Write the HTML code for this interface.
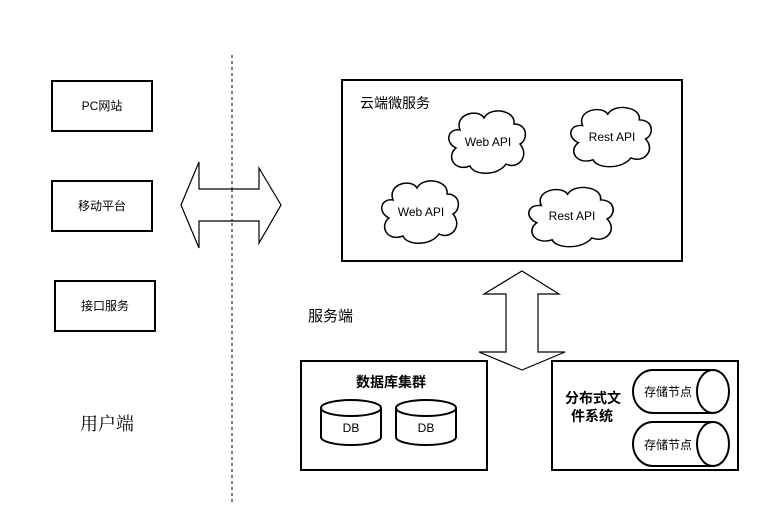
<!DOCTYPE html>
<html><head><meta charset="utf-8"><style>
body{margin:0;background:#fff}
svg text{font-family:"Liberation Sans","Noto Sans CJK SC",sans-serif;fill:#000}
</style></head><body>
<svg width="766" height="520" viewBox="0 0 766 520" xmlns="http://www.w3.org/2000/svg">
<rect width="766" height="520" fill="#fff"/>
<line x1="232" y1="55" x2="232" y2="502" stroke="#000" stroke-dasharray="3,3" stroke-width="1"/>
<g fill="#fff" stroke="#000" stroke-width="2">
<rect x="52" y="81" width="100" height="50"/>
<rect x="52" y="181" width="100" height="50"/>
<rect x="55" y="281" width="100" height="50"/>
<rect x="342" y="80" width="340" height="181"/>
<rect x="301" y="361" width="186" height="109"/>
<rect x="552" y="361" width="186" height="109"/>
</g>
<g font-size="12" text-anchor="middle">
<text x="102" y="110">PC网站</text>
<text x="102" y="210">移动平台</text>
<text x="105" y="310">接口服务</text>
</g>
<text x="107" y="430" font-size="18" text-anchor="middle" style="font-family:'Noto Serif CJK SC',serif">用户端</text>
<!-- horizontal double arrow -->
<path d="M181,205 L199,162 L199,189 L259,189 L259,168 L281,205 L259,243 L259,221 L199,221 L199,248 Z" fill="#fff" stroke="#000" stroke-width="1.2"/>
<line x1="232" y1="189" x2="232" y2="221" stroke="#000" stroke-dasharray="3,3"/>
<!-- vertical double arrow -->
<path d="M522,271 L559,294 L538,294 L538,352 L565,352 L522,370 L479,352 L506,352 L506,294 L484,294 Z" fill="#fff" stroke="#000" stroke-width="1.2"/>
<text x="360" y="108" font-size="14">云端微服务</text>
<text x="308" y="321" font-size="15">服务端</text>
<text x="391" y="387" font-size="14" font-weight="bold" text-anchor="middle">数据库集群</text>
<text x="565" y="403" font-size="14" font-weight="bold">分布式文</text>
<text x="571" y="421" font-size="14" font-weight="bold">件系统</text>
<!-- clouds -->
<defs>
<path id="cl" d="M-28,-12 C-34,-28 -10,-34 -4,-24 C2,-36 28,-32 26,-18 C40,-18 40,-2 32,2 C42,14 30,28 18,22 C10,34 -14,34 -18,24 C-34,30 -42,14 -32,6 C-44,0 -40,-14 -28,-12 Z"/>
</defs>
<g fill="#fff" stroke="#000" stroke-width="1.5">
<use href="#cl" transform="translate(488,142)"/>
<use href="#cl" transform="translate(612,137) scale(1.05,0.95)"/>
<use href="#cl" transform="translate(421,212)"/>
<use href="#cl" transform="translate(572,217) scale(1.1,0.95)"/>
</g>
<g font-size="12" text-anchor="middle">
<text x="488" y="146">Web API</text>
<text x="612" y="141">Rest API</text>
<text x="421" y="216">Web API</text>
<text x="572" y="220">Rest API</text>
</g>
<!-- DB cylinders -->
<g fill="#fff" stroke="#000" stroke-width="2">
<path d="M321,408 L321,437 A30,8 0 0 0 381,437 L381,408"/>
<ellipse cx="351" cy="408" rx="30" ry="8"/>
<path d="M396,408 L396,437 A30,8 0 0 0 456,437 L456,408"/>
<ellipse cx="426" cy="408" rx="30" ry="8"/>
</g>
<g font-size="12" text-anchor="middle">
<text x="351" y="432">DB</text>
<text x="426" y="432">DB</text>
</g>
<!-- horizontal cylinders -->
<g fill="#fff" stroke="#000" stroke-width="2">
<path d="M713,370 L653,370 A20,21.5 0 0 0 653,413 L713,413"/>
<ellipse cx="713" cy="391.5" rx="16" ry="21.5"/>
<path d="M713,422 L653,422 A20,22 0 0 0 653,466 L713,466"/>
<ellipse cx="713" cy="444" rx="16" ry="22"/>
</g>
<g font-size="12" text-anchor="middle">
<text x="668" y="396">存储节点</text>
<text x="668" y="449">存储节点</text>
</g>
</svg>
</body></html>
